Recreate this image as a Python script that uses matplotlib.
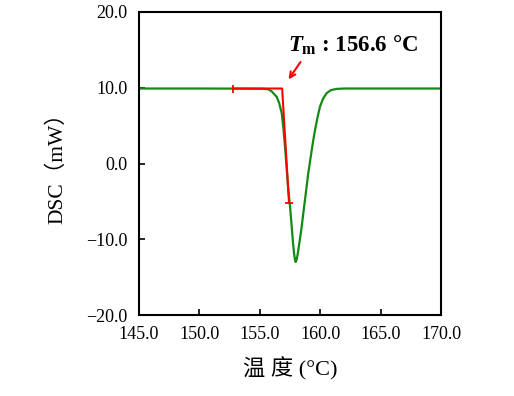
import matplotlib
matplotlib.use("Agg")
import matplotlib.pyplot as plt

plt.rcParams['font.family'] = ['Liberation Serif', 'Noto Sans CJK SC']
plt.rcParams['mathtext.fontset'] = 'custom'
plt.rcParams['mathtext.rm'] = 'Liberation Serif'
plt.rcParams['mathtext.it'] = 'Liberation Serif:italic:bold'
plt.rcParams['mathtext.bf'] = 'Liberation Serif:bold'

# DSC curve
temp = [145.0, 150.0, 154.0, 155.3, 155.7, 156.0, 156.4, 156.6, 156.81, 156.95, 157.09,
        157.22, 157.36, 157.5, 157.64, 157.74, 157.83, 157.91, 157.97, 158.03, 158.11,
        158.19, 158.33, 158.47, 158.6, 158.74, 158.88, 159.01, 159.16, 159.30, 159.43,
        159.57, 159.78, 159.98, 160.25, 160.54, 160.9, 161.37, 162.0, 165.0, 170.0]
dsc = [9.9, 9.9, 9.88, 9.86, 9.8, 9.5, 8.8, 8.0, 6.7, 4.7, 2.2,
       -0.6, -3.5, -5.6, -8.3, -10.3, -11.8, -12.7, -13.0, -12.8, -12.2,
       -11.4, -9.9, -8.3, -6.6, -4.8, -3.0, -1.3, 0.3, 1.8, 3.1,
       4.4, 6.1, 7.5, 8.6, 9.3, 9.7, 9.85, 9.9, 9.9, 9.9]

# onset tangent construction
onset_x = [152.78, 156.85, 157.42]
onset_y = [9.9, 9.9, -5.2]

fig = plt.figure(figsize=(5.14, 3.96), dpi=100)
ax = fig.add_axes([0.2704, 0.2045, 0.5876, 0.7652])

ax.plot(temp, dsc, color='#138a13', lw=1.6)
ax.plot(onset_x, onset_y, color='red', lw=1.5)
ax.plot(onset_x[0], onset_y[0], marker='|', color='red', ms=6, mew=1.3)
ax.plot(onset_x[-1], onset_y[-1], marker='_', color='red', ms=6, mew=1.3)

ax.annotate('', xy=(157.25, 10.8), xytext=(158.5, 13.7),
            arrowprops=dict(arrowstyle='->', color='red', lw=1.5))
ax.text(157.3, 15.6, r'$\mathit{T}_{\mathbf{m}}$ : 156.6 °C', fontsize=16.5,
        fontweight='bold', va='center', ha='left')

ax.set_xlim(145, 170)
ax.set_ylim(-20, 20)
ax.set_xticks([145, 150, 155, 160, 165, 170])
ax.set_yticks([-20, -10, 0, 10, 20])
ax.set_xticklabels(['145.0', '150.0', '155.0', '160.0', '165.0', '170.0'])
ax.set_yticklabels(['\u221220.0', '\u221210.0', '0.0', '10.0', '20.0'])
ax.tick_params(direction='in', length=4, width=1.2, labelsize=13, pad=8)
for s in ax.spines.values():
    s.set_linewidth(1.5)

ax.set_xlabel('温 度 (°C)', fontsize=16, labelpad=10)
ax.set_ylabel('DSC（mW）', fontsize=15.5, labelpad=14)

fig.savefig('out.png', dpi=100)
